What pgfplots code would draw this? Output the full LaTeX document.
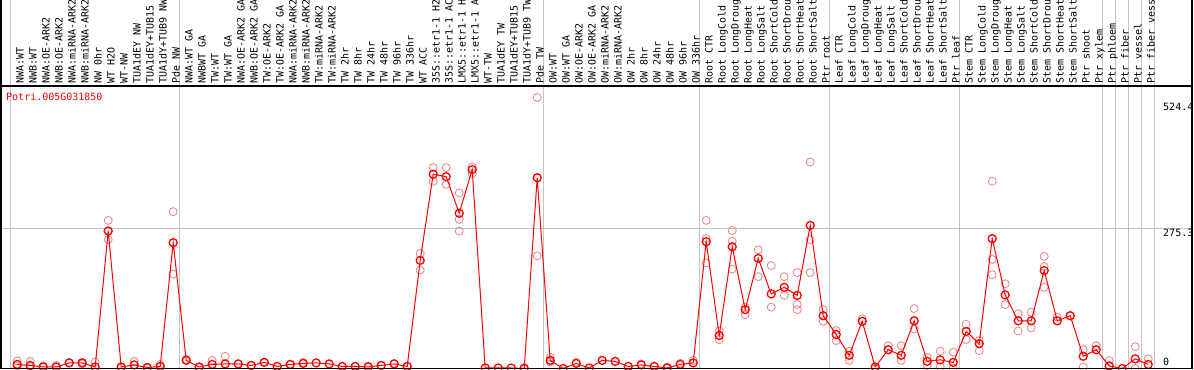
\documentclass[border=0pt]{standalone}
\usepackage{pgfplots}
\pgfplotsset{compat=1.18}
\usepackage{fontspec}
\newfontfamily\lab{DejaVu Sans Mono}
\definecolor{gridg}{RGB}{195,195,195}
\definecolor{rep}{RGB}{232,140,140}
\definecolor{mainred}{RGB}{255,0,0}
\begin{document}
\begin{tikzpicture}
\begin{axis}[
  scale only axis, width=1191pt, height=368.5pt,
  xmin=-1.246, xmax=90.369, ymin=0, ymax=726.3,
  clip mode=individual,
  axis line style={draw=none},
  xtick={-0.5,12.5,40.5,52.5,62.5,72.5,83.5,84.5,85.5,86.5,87.5},
  xticklabels={},
  xmajorgrids,
  major tick length=0pt,
  ytick={275.3}, yticklabels={275.3},
  extra y ticks={0,524.4}, extra y tick labels={\raisebox{3.5pt}[0pt][0pt]{0},524.4},
  extra y tick style={grid=none},
  ymajorgrids, major grid style={gridg, line width=0.8pt},
  yticklabel pos=right,
  yticklabel style={anchor=north west, xshift=-29pt, inner sep=0pt, font=\lab\fontsize{10}{12}\selectfont, fill=white},
]
\coordinate (bl) at (rel axis cs:0,0);
\coordinate (tr) at (rel axis cs:1,1);
% replicates
\addplot[only marks, mark=o, mark size=4pt, color=rep, mark options={line width=0.9pt}] table {
x y
0 15
0 5
1 14
1 4
2 5
3 6
4 12
5 12
5 9
6 13
7 292
7 254
8 2
9 14
10 1
11 8
12 309
12 186
13 18
14 2
15 16
16 24
17 9
18 6
19 12
21 8
22 12
25 4
26 4
27 5
28 6
29 10
30 4
31 227
31 194
32 396
32 369
33 396
33 363
34 346
34 294
34 271
35 397
35 384
39 2
40 534
40 222
41 22
41 13
43 12
48 9
50 3
51 10
52 16
53 292
53 256
53 208
54 74
54 57
55 272
55 251
55 196
56 121
56 106
57 234
57 181
58 203
58 121
59 181
59 144
60 189
60 126
60 116
61 407
61 254
61 189
62 116
62 93
63 75
63 55
64 34
64 16
65 98
66 0
67 45
68 45
68 16
69 118
69 78
70 22
70 6
71 34
71 3
72 32
72 1
73 87
73 57
74 55
74 35
75 369
75 215
75 185
76 167
76 126
77 108
77 74
78 111
78 80
79 221
79 201
79 160
80 101
81 104
82 37
82 3
83 45
84 16
86 43
86 0
87 19
};
% means
\addplot[mainred, line width=1pt, mark=o, mark size=4pt, mark options={line width=1.3pt, solid}] coordinates {
(0,8)(1,6)(2,3)(3,3)(4,11)(5,11)(6,3)(7,271)(8,3)(9,7)(10,2)(11,4)(12,248)
(13,16)(14,3)(15,8)(16,9)(17,9)(18,6)(19,12)(20,4)(21,8)(22,10)(23,11)(24,9)(25,4)(26,4)(27,3)(28,6)(29,9)(30,4)
(31,213)(32,383)(33,378)(34,306)(35,392)(36,1)(37,1)(38,1)(39,0)(40,376)
(41,16)(42,0)(43,10)(44,1)(45,16)(46,14)(47,4)(48,7)(49,4)(50,1)(51,8)(52,11)
(53,250)(54,65)(55,240)(56,116)(57,217)(58,147)(59,160)(60,144)(61,282)(62,104)
(63,67)(64,26)(65,93)(66,3)(67,37)(68,26)(69,94)(70,14)(71,17)(72,12)
(73,73)(74,49)(75,256)(76,145)(77,94)(78,94)(79,193)(80,94)(81,104)(82,24)(83,37)
(84,5)(85,0)(86,19)(87,8)
};
% category labels
\addplot[draw=none, no marks, point meta=explicit symbolic, nodes near coords,
  every node near coord/.style={xshift=3.8pt, rotate=90, anchor=west, inner sep=0pt, font=\lab\fontsize{10}{12}\selectfont, text height=7.3pt, text depth=2pt}] coordinates {
(0,560.7) [NWA:WT]
(1,560.7) [NWB:WT]
(2,560.7) [NWA:OE-ARK2]
(3,560.7) [NWB:OE-ARK2]
(4,560.7) [NWA:miRNA-ARK2]
(5,560.7) [NWB:miRNA-ARK2]
(6,560.7) [NW 0hr]
(7,560.7) [WT H2O]
(8,560.7) [WT-NW]
(9,560.7) [TUA1dEY NW]
(10,560.7) [TUA1dEY+TUB15]
(11,560.7) [TUA1dY+TUB9 NW]
(12,560.7) [Pde NW]
(13,560.7) [NWA:WT GA]
(14,560.7) [NWBWT GA]
(15,560.7) [TW:WT]
(16,560.7) [TW:WT GA]
(17,560.7) [NWA:OE-ARK2 GA]
(18,560.7) [NWB:OE-ARK2 GA]
(19,560.7) [TW:OE-ARK2]
(20,560.7) [TW:OE-ARK2 GA]
(21,560.7) [NWA:miRNA-ARK2]
(22,560.7) [NWB:miRNA-ARK2]
(23,560.7) [TW:miRNA-ARK2]
(24,560.7) [TW:miRNA-ARK2]
(25,560.7) [TW 2hr]
(26,560.7) [TW 8hr]
(27,560.7) [TW 24hr]
(28,560.7) [TW 48hr]
(29,560.7) [TW 96hr]
(30,560.7) [TW 336hr]
(31,560.7) [WT ACC]
(32,560.7) [35S::etr1-1 H2]
(33,560.7) [35S::etr1-1 AC]
(34,560.7) [LMX5::etr1-1 H]
(35,560.7) [LMX5::etr1-1 A]
(36,560.7) [WT-TW]
(37,560.7) [TUA1dEY TW]
(38,560.7) [TUA1dEY+TUB15]
(39,560.7) [TUA1dY+TUB9 TW]
(40,560.7) [Pde TW]
(41,560.7) [OW:WT]
(42,560.7) [OW:WT GA]
(43,560.7) [OW:OE-ARK2]
(44,560.7) [OW:OE-ARK2 GA]
(45,560.7) [OW:miRNA-ARK2]
(46,560.7) [OW:miRNA-ARK2]
(47,560.7) [OW 2hr]
(48,560.7) [OW 8hr]
(49,560.7) [OW 24hr]
(50,560.7) [OW 48hr]
(51,560.7) [OW 96hr]
(52,560.7) [OW 336hr]
(53,560.7) [Root CTR]
(54,560.7) [Root LongCold]
(55,560.7) [Root LongDroug]
(56,560.7) [Root LongHeat]
(57,560.7) [Root LongSalt]
(58,560.7) [Root ShortCold]
(59,560.7) [Root ShortDrou]
(60,560.7) [Root ShortHeat]
(61,560.7) [Root ShortSalt]
(62,560.7) [Ptr root]
(63,560.7) [Leaf CTR]
(64,560.7) [Leaf LongCold]
(65,560.7) [Leaf LongDroug]
(66,560.7) [Leaf LongHeat]
(67,560.7) [Leaf LongSalt]
(68,560.7) [Leaf ShortCold]
(69,560.7) [Leaf ShortDrou]
(70,560.7) [Leaf ShortHeat]
(71,560.7) [Leaf ShortSalt]
(72,560.7) [Ptr leaf]
(73,560.7) [Stem CTR]
(74,560.7) [Stem LongCold]
(75,560.7) [Stem LongDroug]
(76,560.7) [Stem LongHeat]
(77,560.7) [Stem LongSalt]
(78,560.7) [Stem ShortCold]
(79,560.7) [Stem ShortDrou]
(80,560.7) [Stem ShortHeat]
(81,560.7) [Stem ShortSalt]
(82,560.7) [Ptr shoot]
(83,560.7) [Ptr xylem]
(84,560.7) [Ptr phloem]
(85,560.7) [Ptr fiber]
(86,560.7) [Ptr vessel]
(87,560.7) [Ptr fiber vess]
};
\draw[black, line width=1.2pt] (axis cs:-1.246,556.8) -- (axis cs:90.369,556.8);
\draw[black, line width=1.2pt] (rel axis cs:0,1) -- (rel axis cs:0,0) -- (rel axis cs:1,0) -- (rel axis cs:1,1);
\node[anchor=west, xshift=5pt, inner sep=0pt, text=mainred, font=\lab\fontsize{10}{12}\selectfont] at (axis cs:-1.246,535) {Potri.005G031850};
\end{axis}
\pgfresetboundingbox
\path[use as bounding box] ([xshift=-1pt,yshift=-1.5pt]bl) rectangle ([xshift=2pt]tr);
\end{tikzpicture}
\end{document}
